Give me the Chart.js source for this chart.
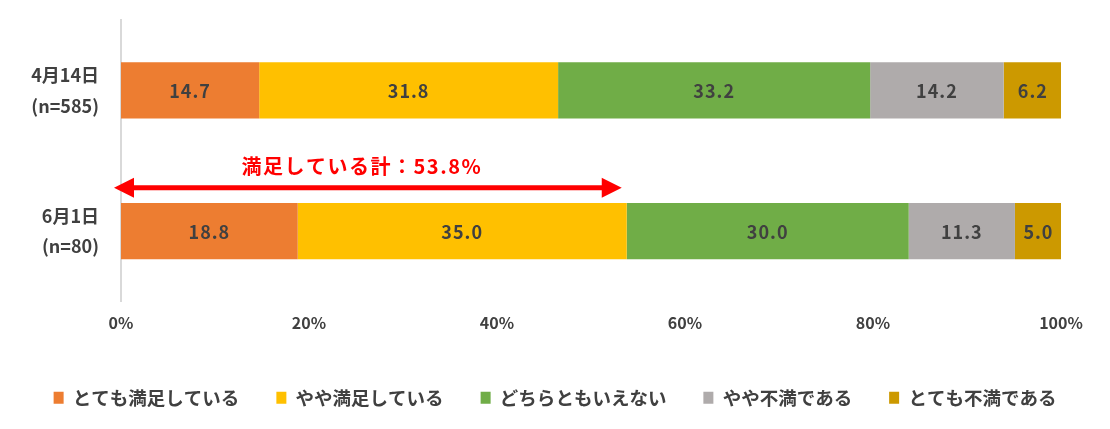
<!DOCTYPE html>
<html lang="ja">
<head>
<meta charset="utf-8">
<script src="https://cdn.jsdelivr.net/npm/chart.js@4.4.1/dist/chart.umd.min.js"></script>
<style>
  html, body { margin: 0; padding: 0; background: #fff; }
  #wrap { width: 1110px; height: 429px; position: relative; }
</style>
</head>
<body>
<div id="wrap"><canvas id="chart"></canvas></div>
<script>
// survey dates (two lines each)
const categories = [['4月14日', '(n=585)'], ['6月1日', '(n=80)']];

// answer options, in stacking order
const seriesNames = ['とても満足している', 'やや満足している', 'どちらともいえない', 'やや不満である', 'とても不満である'];
const seriesColors = ['#ED7D31', '#FFC000', '#70AD47', '#AFABAB', '#CC9900'];

// percent values per answer option (index 0 = 4/14, index 1 = 6/1)
const veryHappy = [14.7, 18.8];
const ratherHappy = [31.8, 35.0];
const neutral = [33.2, 30.0];
const ratherUnhappy = [14.2, 11.3];
const veryUnhappy = [6.2, 5.0];

const xTicks = [0, 20, 40, 60, 80, 100];

const FONT = '"Noto Sans CJK JP", "Noto Sans", sans-serif';
const TEXT_COLOR = '#404040';

// draws value labels in the middle of each segment
const segmentLabels = {
    id: 'segmentLabels',
    afterDatasetsDraw(chart) {
        const ctx = chart.ctx;
        ctx.save();
        ctx.font = 'bold 18px ' + FONT;
        ctx.fillStyle = TEXT_COLOR;
        ctx.textAlign = 'center';
        ctx.textBaseline = 'middle';
        if ('letterSpacing' in ctx) ctx.letterSpacing = '1px';
        chart.data.datasets.forEach((ds, i) => {
            const meta = chart.getDatasetMeta(i);
            meta.data.forEach((bar, j) => {
                const cx = (bar.x + bar.base) / 2;
                ctx.fillText(ds.data[j].toFixed(1), cx, bar.y + 1);
            });
        });
        ctx.restore();
    }
};

// red double arrow showing the "satisfied" total for the second survey
const satisfiedArrow = {
    id: 'satisfiedArrow',
    afterDraw(chart) {
        const total = veryHappy[1] + ratherHappy[1];
        const xs = chart.scales.x;
        const ys = chart.scales.y;
        const x0 = xs.getPixelForValue(0) - 7;
        const x1 = xs.getPixelForValue(total) - 5;
        const y = (ys.getPixelForValue(0) + ys.getPixelForValue(1)) / 2 + 27;
        const ctx = chart.ctx;
        ctx.save();
        ctx.strokeStyle = '#FF0000';
        ctx.fillStyle = '#FF0000';
        ctx.lineWidth = 5;
        ctx.beginPath();
        ctx.moveTo(x0 + 15, y);
        ctx.lineTo(x1 - 15, y);
        ctx.stroke();
        // heads
        ctx.beginPath();
        ctx.moveTo(x0, y);
        ctx.lineTo(x0 + 20, y - 10);
        ctx.lineTo(x0 + 20, y + 10);
        ctx.closePath();
        ctx.fill();
        ctx.beginPath();
        ctx.moveTo(x1, y);
        ctx.lineTo(x1 - 20, y - 10);
        ctx.lineTo(x1 - 20, y + 10);
        ctx.closePath();
        ctx.fill();

        ctx.font = 'bold 20px ' + FONT;
        ctx.textAlign = 'center';
        ctx.textBaseline = 'middle';
        if ('letterSpacing' in ctx) ctx.letterSpacing = '1.5px';
        ctx.fillText('満足している計：' + total.toFixed(1) + '%', (x0 + x1) / 2 - 6, y - 21);
        ctx.restore();
    }
};

const values = [veryHappy, ratherHappy, neutral, ratherUnhappy, veryUnhappy];

new Chart(document.getElementById('chart'), {
    type: 'bar',
    data: {
        labels: categories,
        datasets: values.map((v, i) => ({
            label: seriesNames[i],
            data: v,
            backgroundColor: seriesColors[i],
            borderWidth: 0,
            categoryPercentage: 1,
            barPercentage: 0.4
        }))
    },
    options: {
        indexAxis: 'y',
        responsive: true,
        maintainAspectRatio: false,
        animation: false,
        layout: {
            padding: { top: 20, right: 0, bottom: 12, left: 0 }
        },
        plugins: {
            tooltip: { enabled: false },
            legend: {
                position: 'bottom',
                labels: {
                    boxWidth: 10,
                    boxHeight: 12,
                    padding: 37,
                    color: TEXT_COLOR,
                    font: { family: FONT, size: 18.5, weight: 'bold' }
                }
            }
        },
        scales: {
            x: {
                stacked: true,
                min: 0,
                max: 100,
                afterBuildTicks: (scale) => {
                    scale.ticks = xTicks.map(v => ({ value: v }));
                },
                afterFit: (scale) => {
                    scale.height = 50;
                    scale.paddingRight = 49;
                },
                grid: { display: false, drawTicks: false },
                border: { display: false },
                ticks: {
                    padding: 12,
                    color: TEXT_COLOR,
                    font: { family: FONT, size: 16, weight: 'bold' },
                    callback: (v) => v + '%'
                }
            },
            y: {
                stacked: true,
                afterFit: (scale) => {
                    scale.width = 121;
                    scale.paddingTop = 0;
                    scale.paddingBottom = 0;
                },
                grid: { display: false, drawTicks: false },
                border: { display: true, color: '#D9D9D9', width: 2 },
                ticks: {
                    padding: 22,
                    color: TEXT_COLOR,
                    font: { family: FONT, size: 18, weight: 'bold', lineHeight: 1.7 }
                }
            }
        }
    },
    plugins: [segmentLabels, satisfiedArrow]
});
</script>
</body>
</html>
